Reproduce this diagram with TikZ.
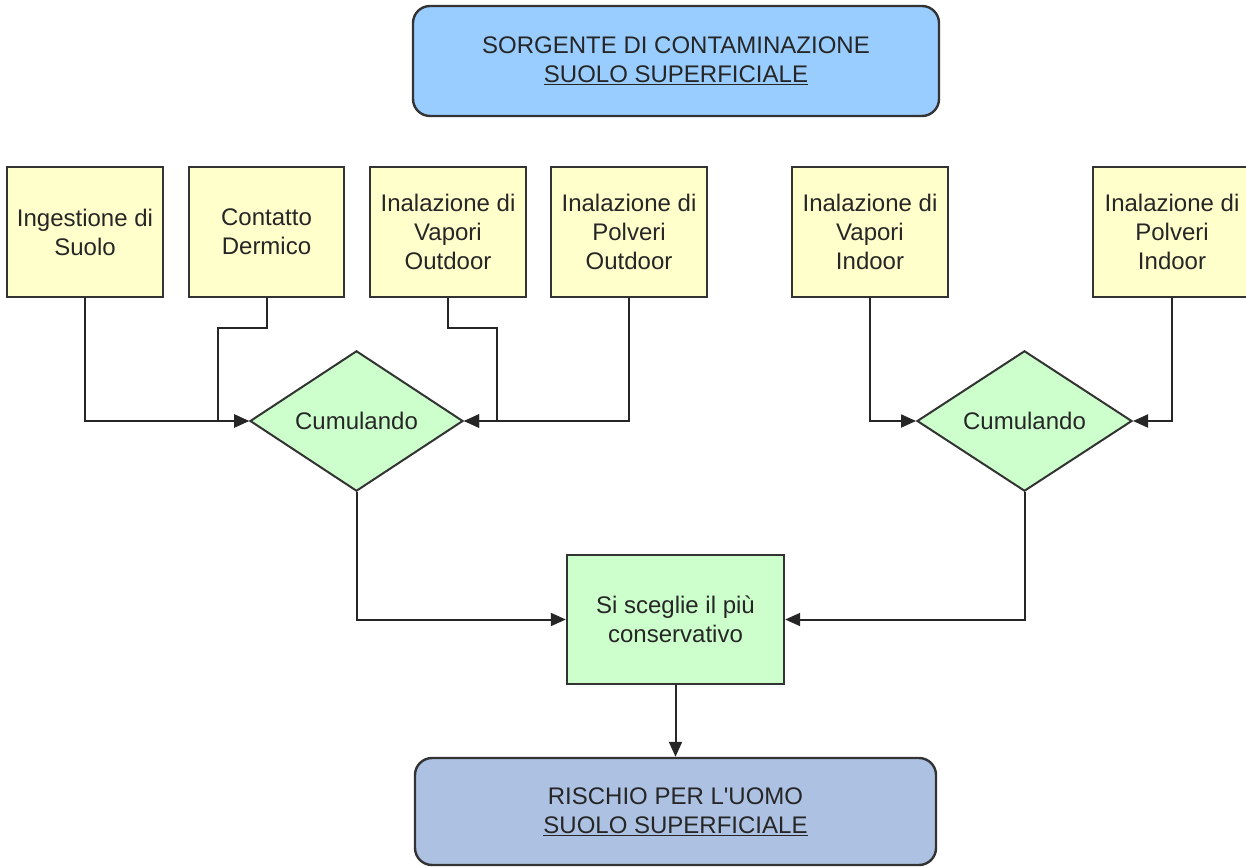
\documentclass[tikz,border=0pt]{standalone}
\usepackage{fontspec}
\setmainfont{Liberation Sans}[Ligatures=TeXOff]
\usetikzlibrary{shapes.geometric,arrows.meta}
\definecolor{topblue}{HTML}{99CCFF}
\definecolor{botblue}{HTML}{ADC2E3}
\definecolor{ybox}{HTML}{FFFFCC}
\definecolor{gbox}{HTML}{CCFFCC}
\definecolor{edge}{HTML}{333333}
\definecolor{txt}{HTML}{262626}
\begin{document}
\begin{tikzpicture}[x=1pt,y=-1pt,
  every node/.style={font=\fontsize{24}{29}\selectfont, text=txt},
  srcbox/.style={rectangle, draw=edge, line width=2.4pt, fill=ybox, minimum width=156pt, minimum height=130pt, align=center, inner sep=0pt},
  decide/.style={diamond, draw=edge, line width=2pt, fill=gbox, minimum width=213pt, minimum height=128pt, inner sep=0pt},
  choosebox/.style={rectangle, draw=edge, line width=2.4pt, fill=gbox, minimum width=217pt, minimum height=129pt, align=center, inner sep=0pt},
  roundbox/.style={rectangle, rounded corners=17pt, draw=edge, line width=2.4pt, align=center, inner sep=0pt},
  conn/.style={line width=2pt, draw=black!85, -{Triangle[length=15pt,width=13pt]}}
]
\useasboundingbox (0,0) rectangle (1246,867);

\node[roundbox, fill=topblue, minimum width=526pt, minimum height=110pt] (src) at (676,61) {SORGENTE DI CONTAMINAZIONE\\\underline{SUOLO SUPERFICIALE}};

\node[srcbox] (b1) at (85,232) {Ingestione di\\Suolo};
\node[srcbox, minimum width=155pt] (b2) at (266.5,232) {Contatto\\Dermico};
\node[srcbox] (b3) at (448,232) {Inalazione di\\Vapori\\Outdoor};
\node[srcbox] (b4) at (629,232) {Inalazione di\\Polveri\\Outdoor};
\node[srcbox] (b5) at (870,232) {Inalazione di\\Vapori\\Indoor};
\node[srcbox, minimum width=158pt] (b6) at (1172,232) {Inalazione di\\Polveri\\Indoor};

\node[decide] (d1) at (356.5,421) {Cumulando};
\node[decide, minimum width=215pt] (d2) at (1024.5,421) {Cumulando};

\node[choosebox] (g) at (675.5,619.5) {Si sceglie il più\\conservativo};

\node[roundbox, fill=botblue, minimum width=521pt, minimum height=107pt] (r) at (675.5,811.5) {RISCHIO PER L'UOMO\\\underline{SUOLO SUPERFICIALE}};

\coordinate (j2) at (218,328);
\coordinate (j3) at (497,328);

\draw[conn] (b1.south) |- (d1.west);
\draw[conn] (b2.south) |- (j2) |- (d1.west);
\draw[conn] (b3.south) |- (j3) |- (d1.east);
\draw[conn] (b4.south) |- (d1.east);
\draw[conn] (b5.south) |- (d2.west);
\draw[conn] (b6.south) |- (d2.east);
\draw[conn] (d1.south) |- (g.west);
\draw[conn] (d2.south) |- (g.east);
\draw[conn] (g.south) -- (r.north);
\end{tikzpicture}
\end{document}
